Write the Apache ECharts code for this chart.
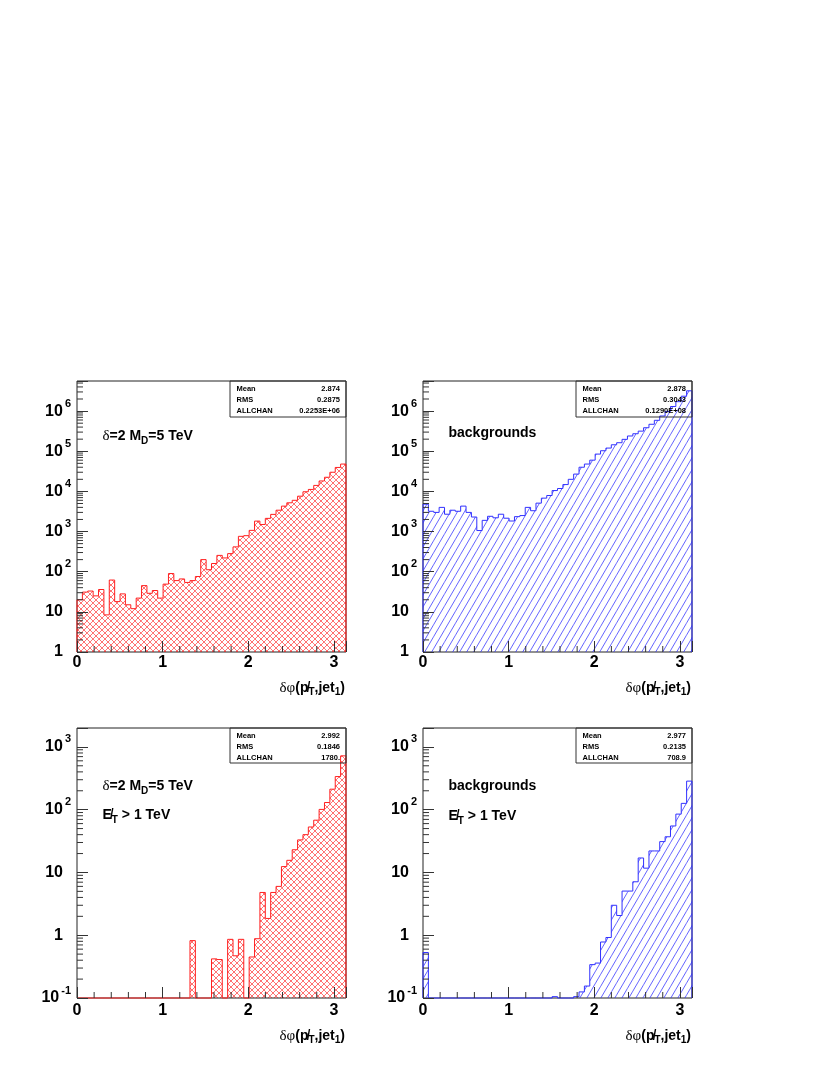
<!DOCTYPE html>
<html><head><meta charset="utf-8">
<script src="https://cdn.jsdelivr.net/npm/echarts@6/dist/echarts.min.js"></script>
<style>html,body{margin:0;padding:0;background:#fff}#c{width:830px;height:1075px}</style>
</head><body><div id="c"></div>
<script>
// ---------------- data ----------------
const nBins = 50;
const xMax = Math.PI;
const xTickLabels = ['0', '1', '2', '3'];
const xMinorTicks = [0.2,0.4,0.6,0.8,1.2,1.4,1.6,1.8,2.2,2.4,2.6,2.8];

// delta phi (missing pT, jet1), signal delta=2 MD=5 TeV, all events
const sigAll = [20,31,33,25,36,8.4,62,18,28,15, 12,22,45,29,34,22,49,90,60,66,
  54,60,76,200,112,160,255,220,282,415, 760,790,1070,1820,1500,2130,2680,3400,4300,5200,
  6000,7600,9800,11200,14100,18200,22500,30000,39500,48000];
// backgrounds, all events
const bkgAll = [4800,3200,3000,4000,2700,3400,3200,4300,3000,2300, 1060,1900,2400,2200,2700,2150,1830,2350,2500,4000,
  3300,5100,6800,7900,10500,11800,14800,20000,27000,40000, 48000,60000,85000,103000,120000,145000,163000,198000,240000,273000,
  317000,385000,470000,590000,755000,980000,1300000,1720000,2350000,3200000];
// signal, missing ET > 1 TeV
const sigCut = [0,0,0,0,0,0,0,0,0,0, 0,0,0,0,0,0,0,0,0,0,
  0,0.82,0,0,0,0.42,0.41,0,0.86,0.47, 0.86,0,0.45,0.88,4.8,1.85,4.8,6.0,12.4,15.6,
  23,33,40,53,68,101,130,212,337,720];
// backgrounds, missing ET > 1 TeV
const bkgCut = [0.53,0,0,0,0,0,0,0,0,0, 0,0,0,0,0,0,0,0,0,0,
  0,0,0,0,0.105,0,0,0,0.105,0.125, 0.155,0.34,0.36,0.78,0.92,3.0,2.06,5.05,5.05,7.1,
  17,11.7,22,22,31,37,55,85,126,285];

const statMean = ['2.874', '2.878', '2.992', '2.977'];
const statRMS = ['0.2875', '0.3043', '0.1846', '0.2135'];
const statAll = ['0.2253E+06', '0.1290E+08', '1780.', '708.9'];
const statNames = ['Mean', 'RMS', 'ALLCHAN'];

// ---------------- styling helpers ----------------
const FONT = '"Liberation Sans", Arial, Helvetica, sans-serif';
const SERIF = '"Liberation Serif", "DejaVu Serif", serif';

function makeRedCross() {
  const c = document.createElement('canvas'); c.width = 6; c.height = 6;
  const g = c.getContext('2d');
  g.strokeStyle = 'rgba(255,0,0,0.7)'; g.lineWidth = 0.8;
  for (const o of [-6, 0, 6]) {
    g.beginPath(); g.moveTo(o, 0); g.lineTo(o + 6, 6); g.stroke();
    g.beginPath(); g.moveTo(o, 6); g.lineTo(o + 6, 0); g.stroke();
  }
  return c;
}
function makeBlueHatch() {
  const c = document.createElement('canvas'); c.width = 7; c.height = 12;
  const g = c.getContext('2d');
  g.strokeStyle = 'rgba(50,50,255,0.85)'; g.lineWidth = 0.9;
  for (const o of [-7, 0, 7]) {
    g.beginPath(); g.moveTo(o, 12); g.lineTo(o + 7, 0); g.stroke();
  }
  return c;
}
const redPattern = { image: makeRedCross(), repeat: 'repeat' };
const bluePattern = { image: makeBlueHatch(), repeat: 'repeat' };

function logLabel(v) {
  const e = Math.log10(v);
  const r = Math.round(e);
  if (Math.abs(e - r) > 1e-6) return '';
  if (r === 0) return '{b|1}{gap| }';
  if (r === 1) return '{b|10}{gap| }';
  return '{b|10}{sup|' + r + '}';
}
const yRich = {
  b: { fontSize: 16, fontWeight: 'bold', fontFamily: FONT, color: '#000', lineHeight: 26, verticalAlign: 'middle' },
  sup: { fontSize: 11, fontWeight: 'bold', fontFamily: FONT, color: '#000', lineHeight: 12, verticalAlign: 'top', padding: [0, 0, 0, 2] },
  gap: { width: 8, fontSize: 11, lineHeight: 12, verticalAlign: 'middle' }
};
const txtRich = {
  g: { fontSize: 15, fontFamily: SERIF, color: '#000', lineHeight: 20, verticalAlign: 'middle' },
  b: { fontSize: 14, fontWeight: 'bold', fontFamily: FONT, color: '#000', lineHeight: 20, verticalAlign: 'middle' },
  s: { fontSize: 10, fontWeight: 'bold', fontFamily: FONT, color: '#000', lineHeight: 10, verticalAlign: 'bottom' }
};
const titleRich = {
  g: { fontSize: 15, fontFamily: SERIF, color: '#000', lineHeight: 18, verticalAlign: 'middle' },
  b: { fontSize: 14, fontWeight: 'bold', fontFamily: FONT, color: '#000', lineHeight: 18, verticalAlign: 'middle' },
  s: { fontSize: 10, fontWeight: 'bold', fontFamily: FONT, color: '#000', lineHeight: 10, verticalAlign: 'bottom' }
};

function makeHist(yMin, pattern, lineColor) {
  return function (params, api) {
    const lo = api.value(0), hi = api.value(1);
    const v = Math.max(api.value(2), yMin);
    const pv = Math.max(api.value(3), yMin);
    const isLast = api.value(4) === 1;
    const pLo = api.coord([lo, v]);
    const pHi = api.coord([hi, v]);
    const pBase = api.coord([lo, yMin]);
    const pPrev = api.coord([lo, pv]);
    const pts = [pPrev, pLo, pHi];
    if (isLast) pts.push(api.coord([hi, yMin]));
    return {
      type: 'group', children: [
        { type: 'rect', shape: { x: pLo[0], y: pLo[1], width: pHi[0] - pLo[0], height: pBase[1] - pLo[1] },
          style: { fill: pattern } },
        { type: 'polyline', shape: { points: pts }, style: { stroke: lineColor, lineWidth: 1, fill: 'none' } }
      ]
    };
  };
}
function makeXMinor(yMin) {
  return function (params, api) {
    const p = api.coord([api.value(0), yMin]);
    return { type: 'line', shape: { x1: p[0], y1: p[1], x2: p[0], y2: p[1] - 6 }, style: { stroke: '#333', lineWidth: 1 } };
  };
}
function yMinorRender(params, api) {
  const p = api.coord([0, api.value(1)]);
  return { type: 'line', shape: { x1: p[0], y1: p[1], x2: p[0] + 6, y2: p[1] }, style: { stroke: '#333', lineWidth: 1 } };
}

// ---------------- panels ----------------
const panels = [
  { left: 77, top: 381, width: 269, height: 271, values: sigAll, yMin: 1, yMax: 5.62e6, pattern: redPattern, line: '#ff2020', xm: 3, boxH: 36,
    labels: ['{g|δ}{b|=2 M}{s|D}{b|=5 TeV}'], ly: [436] },
  { left: 423, top: 381, width: 269, height: 271, values: bkgAll, yMin: 1, yMax: 5.62e6, pattern: bluePattern, line: '#3030ff', xm: 3, boxH: 36,
    labels: ['{b|backgrounds}'], ly: [433.5] },
  { left: 77, top: 728, width: 269, height: 270, values: sigCut, yMin: 0.1, yMax: 2000, pattern: redPattern, line: '#ff2020', xm: 4.5, boxH: 35,
    labels: ['{g|δ}{b|=2 M}{s|D}{b|=5 TeV}', '{b|E\u0338}{s|T}{b| > 1 TeV}'], ly: [786.5, 815.5] },
  { left: 423, top: 728, width: 269, height: 270, values: bkgCut, yMin: 0.1, yMax: 2000, pattern: bluePattern, line: '#3030ff', xm: 4.5, boxH: 35,
    labels: ['{b|backgrounds}', '{b|E\u0338}{s|T}{b| > 1 TeV}'], ly: [786, 816] }
];

const grids = [], xAxes = [], yAxes = [], series = [], graphics = [];
panels.forEach((p, i) => {
  grids.push({ left: p.left, top: p.top, width: p.width, height: p.height, show: true, borderColor: '#222', borderWidth: 1,
    backgroundColor: 'transparent', containLabel: false, outerBoundsMode: 'none', z: 1 });
  xAxes.push({ type: 'value', gridIndex: i, min: 0, max: xMax, interval: 1, z: 5,
    axisLine: { show: false }, splitLine: { show: false },
    axisTick: { show: true, inside: true, length: 11, lineStyle: { color: '#333', width: 1 } },
    axisLabel: { show: true, margin: p.xm, fontSize: 16, fontWeight: 'bold', fontFamily: FONT, color: '#000',
      formatter: (v) => { const r = Math.round(v); return (Math.abs(v - r) < 1e-9 && r < xTickLabels.length) ? xTickLabels[r] : ''; } } });
  yAxes.push({ type: 'log', logBase: 10, gridIndex: i, min: p.yMin, max: p.yMax, z: 5,
    axisLine: { show: false }, splitLine: { show: false }, minorTick: { show: false },
    axisTick: { show: true, inside: true, length: 11, lineStyle: { color: '#333', width: 1 } },
    axisLabel: { show: true, margin: 6, formatter: logLabel, rich: yRich, color: '#000' } });

  const data = p.values.map((v, k) => [k * xMax / nBins, (k + 1) * xMax / nBins, v, k > 0 ? p.values[k - 1] : 0, k === p.values.length - 1 ? 1 : 0]);
  series.push({ type: 'custom', xAxisIndex: i, yAxisIndex: i, renderItem: makeHist(p.yMin, p.pattern, p.line),
    encode: { x: [0, 1], y: 2 }, data: data, clip: false, silent: true, z: 2 });
  series.push({ type: 'custom', xAxisIndex: i, yAxisIndex: i, renderItem: makeXMinor(p.yMin),
    data: xMinorTicks.map(x => [x, p.yMin]), silent: true, z: 6 });
  const yMinor = [];
  for (let e = Math.floor(Math.log10(p.yMin)); e < Math.ceil(Math.log10(p.yMax)); e++) {
    for (let m = 2; m <= 9; m++) {
      const val = m * Math.pow(10, e);
      if (val > p.yMin && val < p.yMax) yMinor.push([0, val]);
    }
  }
  series.push({ type: 'custom', xAxisIndex: i, yAxisIndex: i, renderItem: yMinorRender, data: yMinor, silent: true, z: 6 });

  // stats box
  const right = p.left + p.width;
  const bx = right - 116;
  graphics.push({ type: 'rect', z: 10, shape: { x: bx, y: p.top, width: 116, height: p.boxH },
    style: { fill: 'none', stroke: '#333', lineWidth: 1 } });
  const vals = [statMean[i], statRMS[i], statAll[i]];
  [7.8, 19, 30].forEach((dy, r) => {
    graphics.push({ type: 'text', z: 10, style: { text: statNames[r], x: bx + 6.5, y: p.top + dy, font: 'bold 7.5px ' + FONT,
      fill: '#000', align: 'left', verticalAlign: 'middle', textAlign: 'left', textVerticalAlign: 'middle' } });
    graphics.push({ type: 'text', z: 10, style: { text: vals[r], x: right - 6, y: p.top + dy, font: 'bold 7.5px ' + FONT,
      fill: '#000', align: 'right', verticalAlign: 'middle', textAlign: 'right', textVerticalAlign: 'middle' } });
  });
  // in-plot labels
  p.labels.forEach((t, j) => {
    graphics.push({ type: 'text', z: 10, style: { text: t, rich: txtRich, x: p.left + 25.5, y: p.ly[j],
      align: 'left', verticalAlign: 'middle', textAlign: 'left', textVerticalAlign: 'middle' } });
  });
  // x axis title
  graphics.push({ type: 'text', z: 10, style: { text: '{g|δφ}{b|(p\u0338}{s|T}{b|,jet}{s|1}{b|)}', rich: titleRich,
    x: right - 1, y: p.top + p.height + (i < 2 ? 36 : 38.5), align: 'right', verticalAlign: 'middle', textAlign: 'right', textVerticalAlign: 'middle' } });
});

const chart = echarts.init(document.getElementById('c'), null, { renderer: 'canvas' });
chart.setOption({
  animation: false,
  backgroundColor: '#fff',
  grid: grids, xAxis: xAxes, yAxis: yAxes, series: series, graphic: { elements: graphics }
});
</script></body></html>
